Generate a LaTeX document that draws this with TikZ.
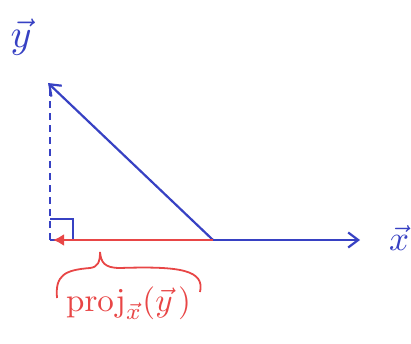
\documentclass[tikz,border=0pt]{standalone}
\usetikzlibrary{arrows.meta}
\definecolor{penblue}{RGB}{55,65,195}
\definecolor{penred}{RGB}{232,70,70}
\begin{document}
\begin{tikzpicture}[x=1pt,y=-1pt,
  bluevec/.style={draw=penblue,line width=2.2pt,-{Straight Barb[length=10pt,width=15pt]}},
  redvec/.style={draw=penred,line width=2.4pt,-{Latex[length=11pt,width=12pt]}},
  lbl/.style={inner sep=0pt}]
\useasboundingbox (0,0) rectangle (411,344);
\coordinate (O) at (50,240);
\coordinate (X) at (360,240);
\coordinate (Y) at (48,83);
\coordinate (P) at (213,240);
\coordinate (D) at (50,88);
\draw[penblue,line width=2pt,dash pattern=on 7pt off 5pt] (O) -- (D);
\draw[penblue,line width=2pt] (50,219) -- (73,219) -- (73,240);
\draw[bluevec] (O) -- (X);
\draw[bluevec] (P) -- (Y);
\draw[redvec] (P) -- (53,240);
\draw[penred,line width=1.8pt] (57,298) .. controls (55,275) and (65,270) .. (90,268)
  .. controls (98,267) and (100,262) .. (100,252)
  .. controls (101,262) and (104,268) .. (120,268)
  .. controls (180,266) and (205,270) .. (200,292);
\node[lbl,text=penblue] (ly) at (21,37) {\scalebox{4}{$\vec{y}$}};
\node[lbl,text=penblue] (lx) at (399,238) {\scalebox{3.5}{$\vec{x}$}};
\node[lbl,text=penred,anchor=west] (lp) at (66,303) {\scalebox{3.3}{$\mathrm{proj}_{\vec{x}}(\vec{y}\,)$}};
\end{tikzpicture}
\end{document}
